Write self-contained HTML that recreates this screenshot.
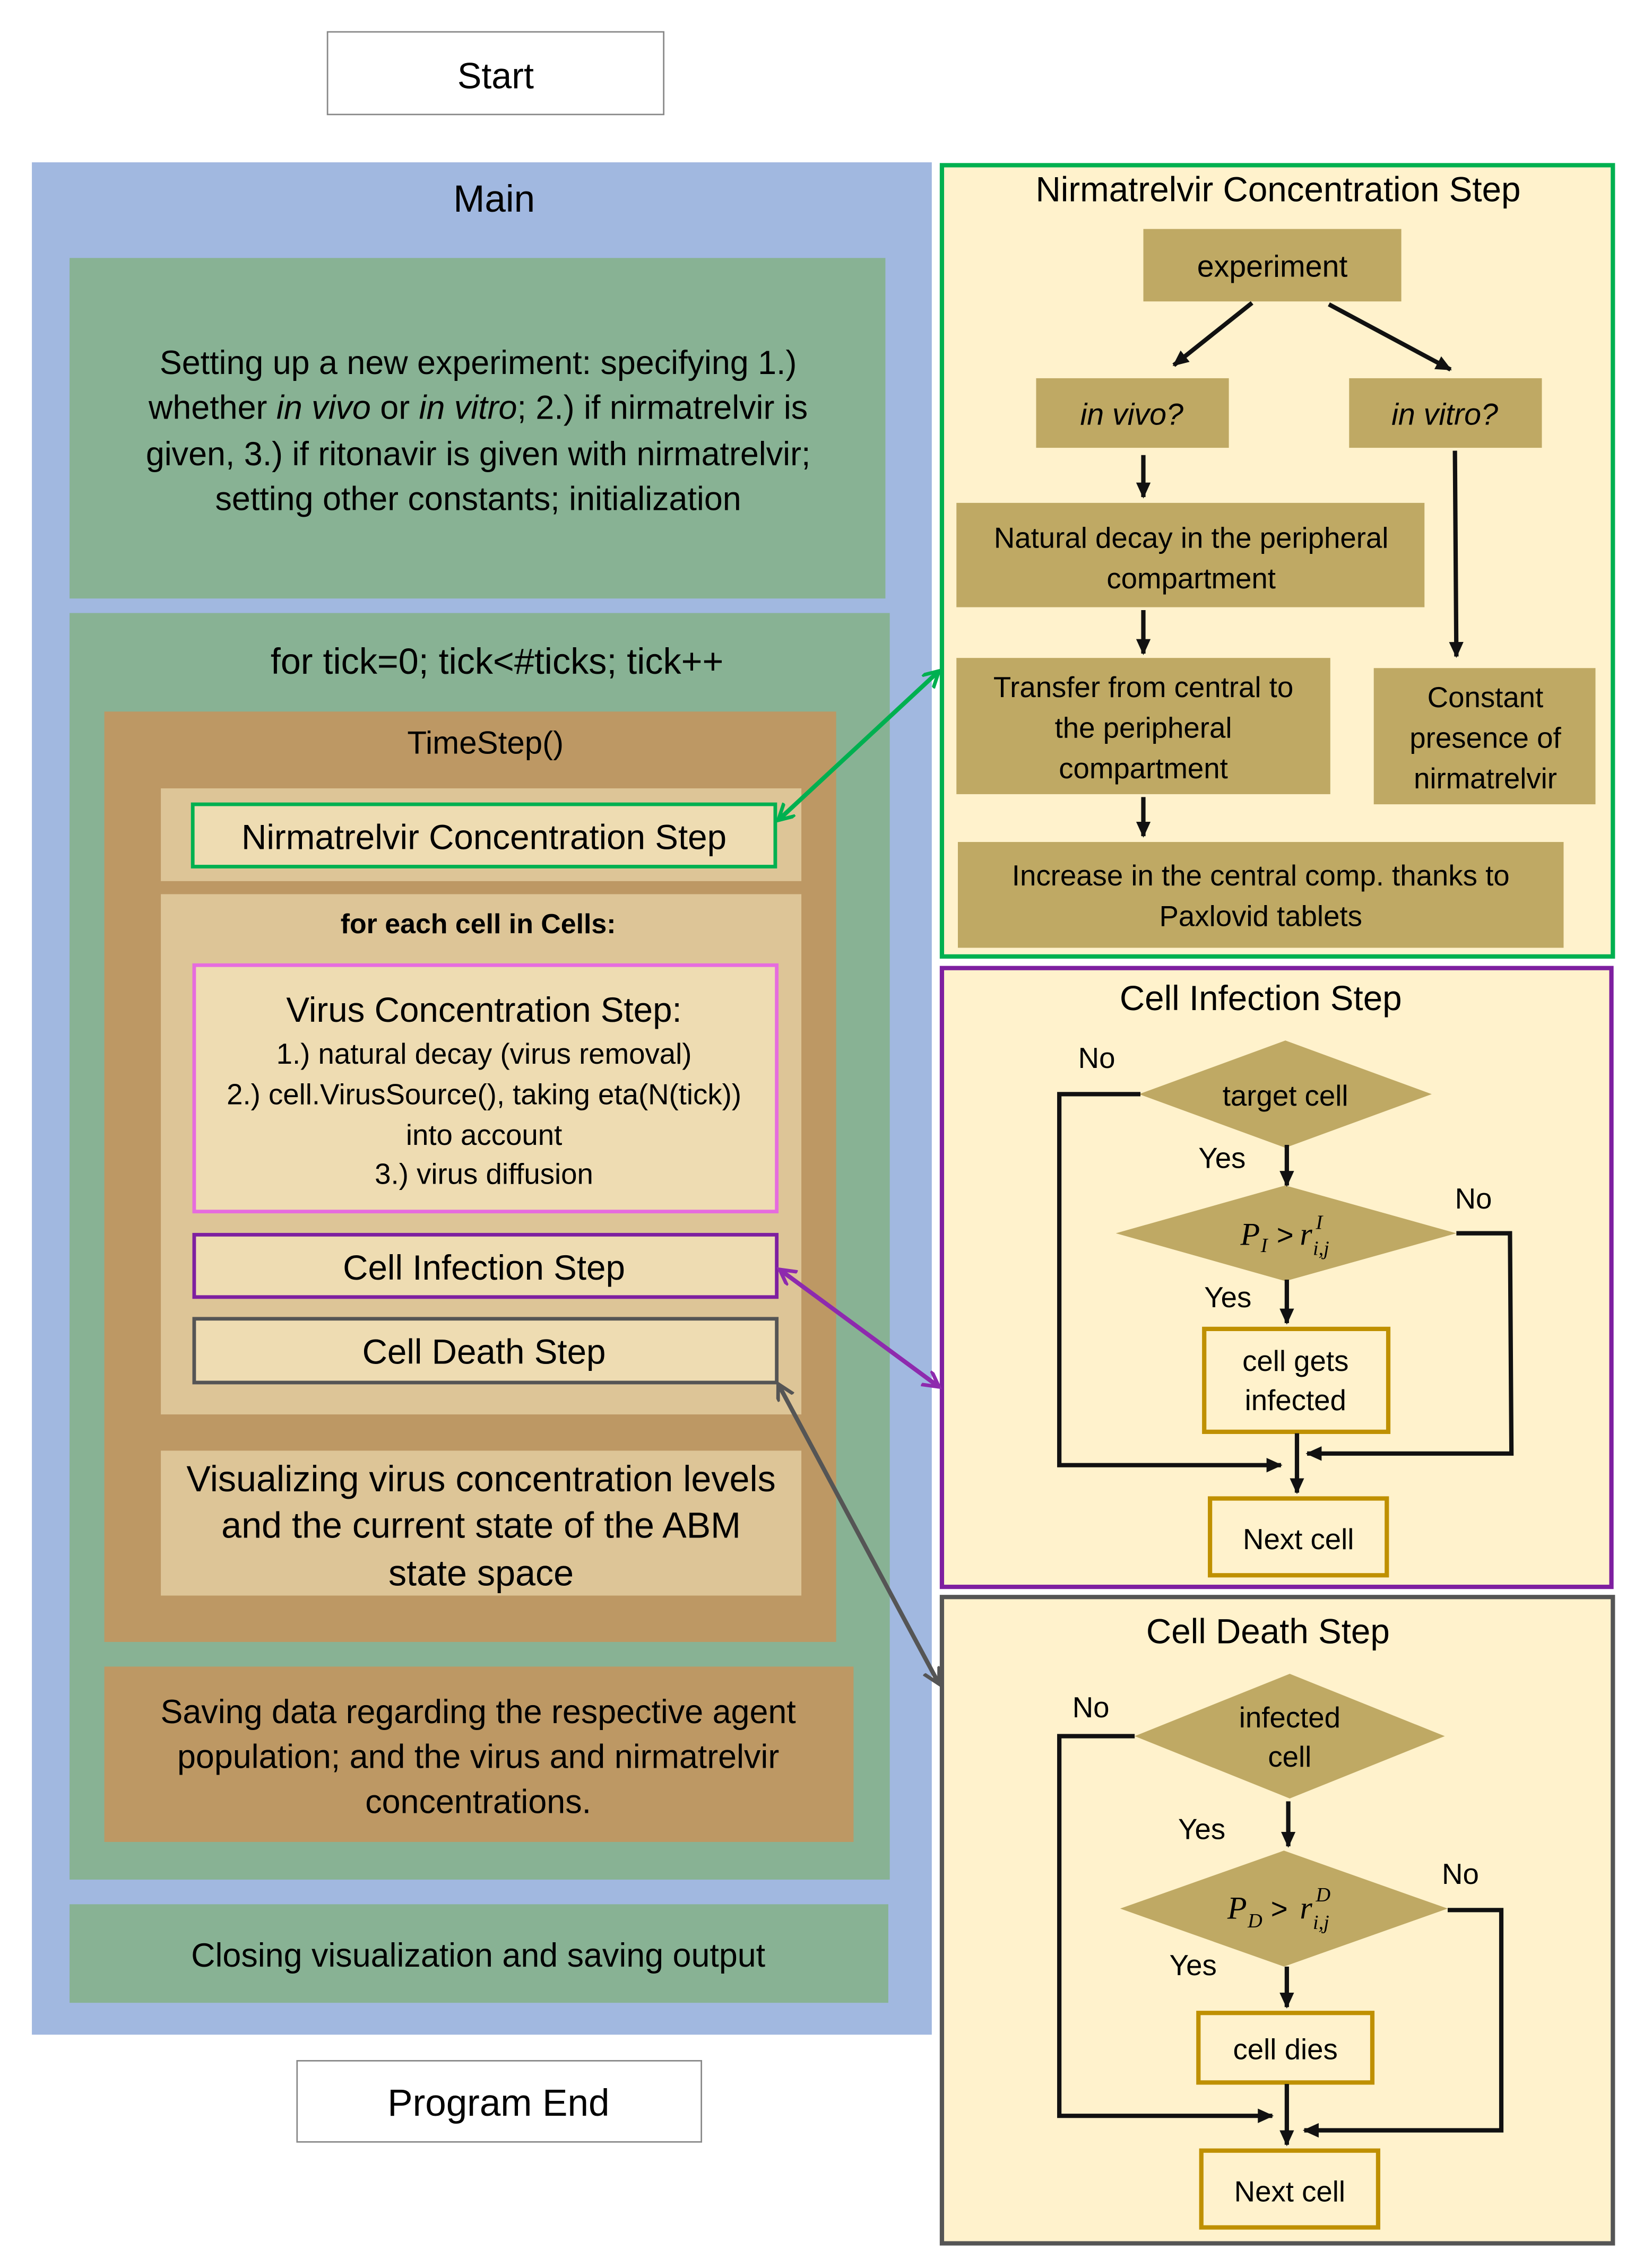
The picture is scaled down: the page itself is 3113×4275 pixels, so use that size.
<!DOCTYPE html>
<html><head><meta charset="utf-8"><style>
html,body{margin:0;padding:0;background:#fff;}
svg{display:block;}
text{font-family:"Liberation Sans",sans-serif;fill:#000;}
.m{font-family:"Liberation Serif",serif;font-style:italic;}
</style></head><body>
<svg width="3113" height="4275" viewBox="0 0 1140 1565" preserveAspectRatio="none" xmlns="http://www.w3.org/2000/svg">
<defs>
<marker id="ak" markerWidth="12" markerHeight="12" refX="10" refY="5" orient="auto" markerUnits="userSpaceOnUse"><path d="M0,0 L11,5 L0,10 z" fill="#111"/></marker>
<marker id="ag" markerWidth="14" markerHeight="14" refX="11" refY="6" orient="auto-start-reverse" markerUnits="userSpaceOnUse"><path d="M0,0 L11,6 L0,12" fill="none" stroke="#00B050" stroke-width="2.5"/></marker>
<marker id="ap" markerWidth="14" markerHeight="14" refX="11" refY="6" orient="auto-start-reverse" markerUnits="userSpaceOnUse"><path d="M0,0 L11,6 L0,12" fill="none" stroke="#8E2AAE" stroke-width="2.5"/></marker>
<marker id="ay" markerWidth="14" markerHeight="14" refX="11" refY="6" orient="auto-start-reverse" markerUnits="userSpaceOnUse"><path d="M0,0 L11,6 L0,12" fill="none" stroke="#555" stroke-width="2.5"/></marker>
</defs>
<rect width="1140" height="1565" fill="#fff"/>
<rect x="226" y="22" width="232" height="57" fill="#fff" stroke="#888" stroke-width="1"/>
<text x="342" y="61" font-size="25" text-anchor="middle">Start</text>
<rect x="22" y="112" width="621" height="1292" fill="#A1B8E0"/>
<text x="341" y="146" font-size="26" text-anchor="middle">Main</text>
<rect x="48" y="178" width="563" height="235" fill="#88B294"/>
<g font-size="23" text-anchor="middle">
<text x="330" y="258">Setting up a new experiment: specifying 1.)</text>
<text x="330" y="289">whether <tspan font-style="italic">in vivo</tspan> or <tspan font-style="italic">in vitro</tspan>; 2.) if nirmatrelvir is</text>
<text x="330" y="321">given, 3.) if ritonavir is given with nirmatrelvir;</text>
<text x="330" y="352">setting other constants; initialization</text>
</g>
<rect x="48" y="423" width="566" height="874" fill="#88B294"/>
<text x="343" y="465" font-size="25" text-anchor="middle">for tick=0; tick&lt;#ticks; tick++</text>
<rect x="72" y="491" width="505" height="642" fill="#BD9864"/>
<text x="335" y="520" font-size="22" text-anchor="middle">TimeStep()</text>
<rect x="111" y="544" width="442" height="64" fill="#DDC597"/>
<rect x="133" y="555" width="402" height="43" fill="#EEDCB2" stroke="#00B050" stroke-width="2.5"/>
<text x="334" y="586" font-size="24" text-anchor="middle">Nirmatrelvir Concentration Step</text>
<rect x="111" y="617" width="442" height="359" fill="#DDC597"/>
<text x="330" y="644" font-size="19" font-weight="bold" text-anchor="middle">for each cell in Cells:</text>
<rect x="134" y="666" width="402" height="170" fill="#EEDCB2" stroke="#E66CDE" stroke-width="2.5"/>
<text x="334" y="705" font-size="24" text-anchor="middle">Virus Concentration Step:</text>
<g font-size="20" text-anchor="middle">
<text x="334" y="734">1.) natural decay (virus removal)</text>
<text x="334" y="762">2.) cell.VirusSource(), taking eta(N(tick))</text>
<text x="334" y="790">into account</text>
<text x="334" y="817">3.) virus diffusion</text>
</g>
<rect x="134" y="852" width="402" height="43" fill="#EEDCB2" stroke="#7E1FA0" stroke-width="2.5"/>
<text x="334" y="883" font-size="24" text-anchor="middle">Cell Infection Step</text>
<rect x="134" y="910" width="402" height="44" fill="#EEDCB2" stroke="#555" stroke-width="2.5"/>
<text x="334" y="941" font-size="24" text-anchor="middle">Cell Death Step</text>
<rect x="111" y="1001" width="442" height="100" fill="#DDC597"/>
<g font-size="25" text-anchor="middle">
<text x="332" y="1029">Visualizing virus concentration levels</text>
<text x="332" y="1061">and the current state of the ABM</text>
<text x="332" y="1094">state space</text>
</g>
<rect x="72" y="1150" width="517" height="121" fill="#BD9864"/>
<g font-size="23" text-anchor="middle">
<text x="330" y="1189">Saving data regarding the respective agent</text>
<text x="330" y="1220">population; and the virus and nirmatrelvir</text>
<text x="330" y="1251">concentrations.</text>
</g>
<rect x="48" y="1314" width="565" height="68" fill="#88B294"/>
<text x="330" y="1357" font-size="23" text-anchor="middle">Closing visualization and saving output</text>
<rect x="205" y="1422" width="279" height="56" fill="#fff" stroke="#888" stroke-width="1"/>
<text x="344" y="1460" font-size="26" text-anchor="middle">Program End</text>

<!-- Panel 1 -->
<rect x="650" y="114" width="463" height="546" fill="#FFF2CC" stroke="#00B050" stroke-width="3"/>
<text x="882" y="139" font-size="24" text-anchor="middle">Nirmatrelvir Concentration Step</text>
<rect x="789" y="158" width="178" height="50" fill="#BFA964"/>
<text x="878" y="191" font-size="21" text-anchor="middle">experiment</text>
<rect x="715" y="261" width="133" height="48" fill="#BFA964"/>
<text x="781" y="293" font-size="21" font-style="italic" text-anchor="middle">in vivo?</text>
<rect x="931" y="261" width="133" height="48" fill="#BFA964"/>
<text x="997" y="293" font-size="21" font-style="italic" text-anchor="middle">in vitro?</text>
<rect x="660" y="347" width="323" height="72" fill="#BFA964"/>
<text x="822" y="378" font-size="20" text-anchor="middle">Natural decay in the peripheral</text>
<text x="822" y="406" font-size="20" text-anchor="middle">compartment</text>
<rect x="660" y="454" width="258" height="94" fill="#BFA964"/>
<text x="789" y="481" font-size="20" text-anchor="middle">Transfer from central to</text>
<text x="789" y="509" font-size="20" text-anchor="middle">the peripheral</text>
<text x="789" y="537" font-size="20" text-anchor="middle">compartment</text>
<rect x="948" y="461" width="153" height="94" fill="#BFA964"/>
<text x="1025" y="488" font-size="20" text-anchor="middle">Constant</text>
<text x="1025" y="516" font-size="20" text-anchor="middle">presence of</text>
<text x="1025" y="544" font-size="20" text-anchor="middle">nirmatrelvir</text>
<rect x="661" y="581" width="418" height="73" fill="#BFA964"/>
<text x="870" y="611" font-size="20" text-anchor="middle">Increase in the central comp. thanks to</text>
<text x="870" y="639" font-size="20" text-anchor="middle">Paxlovid tablets</text>
<g stroke="#111" stroke-width="3" fill="none" marker-end="url(#ak)">
<line x1="864" y1="209" x2="810" y2="252"/>
<line x1="917" y1="210" x2="1001" y2="255"/>
<line x1="789" y1="314" x2="789" y2="343"/>
<line x1="789" y1="421" x2="789" y2="451"/>
<line x1="789" y1="550" x2="789" y2="577"/>
<line x1="1004" y1="311" x2="1005" y2="453"/>
</g>

<!-- Panel 2 -->
<rect x="650" y="668" width="462" height="427" fill="#FFF2CC" stroke="#7E1FA0" stroke-width="3"/>
<text x="870" y="697" font-size="24" text-anchor="middle">Cell Infection Step</text>
<polygon points="786,755 887,718 988,755 887,792" fill="#BFA964"/>
<text x="887" y="763" font-size="20" text-anchor="middle">target cell</text>
<polygon points="770,851 887,818 1005,851 887,884" fill="#BFA964"/>
<text class="m" x="856" y="859" font-size="22">P</text>
<text class="m" x="870" y="864" font-size="14">I</text>
<text x="881" y="859" font-size="20">&gt;</text>
<text class="m" x="897" y="859" font-size="22">r</text>
<text class="m" x="908" y="848" font-size="14">I</text>
<text class="m" x="906" y="866" font-size="14">i,j</text>
<rect x="831" y="917" width="127" height="71" fill="#FFF2CC" stroke="#BF9000" stroke-width="3"/>
<text x="894" y="946" font-size="20" text-anchor="middle">cell gets</text>
<text x="894" y="973" font-size="20" text-anchor="middle">infected</text>
<rect x="835" y="1034" width="122" height="53" fill="#FFF2CC" stroke="#BF9000" stroke-width="3"/>
<text x="896" y="1069" font-size="20" text-anchor="middle">Next cell</text>
<g font-size="20"><text x="744" y="737">No</text><text x="827" y="806">Yes</text><text x="1004" y="834">No</text><text x="831" y="902">Yes</text></g>
<g stroke="#111" stroke-width="3" fill="none">
<polyline points="787,755 731,755 731,1011 884,1011" marker-end="url(#ak)"/>
<line x1="888" y1="790" x2="888" y2="818" marker-end="url(#ak)"/>
<line x1="888" y1="883" x2="888" y2="913" marker-end="url(#ak)"/>
<polyline points="1005,851 1042,851 1043,1003 902,1003" marker-end="url(#ak)"/>
<line x1="895" y1="989" x2="895" y2="1030" marker-end="url(#ak)"/>
</g>

<!-- Panel 3 -->
<rect x="650" y="1102" width="463" height="446" fill="#FFF2CC" stroke="#555" stroke-width="3"/>
<text x="875" y="1134" font-size="24" text-anchor="middle">Cell Death Step</text>
<polygon points="783,1198 890,1155 997,1198 890,1241" fill="#BFA964"/>
<text x="890" y="1192" font-size="20" text-anchor="middle">infected</text>
<text x="890" y="1219" font-size="20" text-anchor="middle">cell</text>
<polygon points="773,1317 886,1277 999,1317 886,1357" fill="#BFA964"/>
<text class="m" x="847" y="1324" font-size="22">P</text>
<text class="m" x="861" y="1330" font-size="14">D</text>
<text x="877" y="1324" font-size="20">&gt;</text>
<text class="m" x="897" y="1324" font-size="22">r</text>
<text class="m" x="908" y="1312" font-size="14">D</text>
<text class="m" x="906" y="1331" font-size="14">i,j</text>
<rect x="827" y="1389" width="120" height="48" fill="#FFF2CC" stroke="#BF9000" stroke-width="3"/>
<text x="887" y="1421" font-size="20" text-anchor="middle">cell dies</text>
<rect x="829" y="1484" width="122" height="53" fill="#FFF2CC" stroke="#BF9000" stroke-width="3"/>
<text x="890" y="1519" font-size="20" text-anchor="middle">Next cell</text>
<g font-size="20"><text x="740" y="1185">No</text><text x="813" y="1269">Yes</text><text x="995" y="1300">No</text><text x="807" y="1363">Yes</text></g>
<g stroke="#111" stroke-width="3" fill="none">
<polyline points="783,1198 731,1198 731,1460 878,1460" marker-end="url(#ak)"/>
<line x1="889" y1="1243" x2="889" y2="1274" marker-end="url(#ak)"/>
<polyline points="999,1318 1036,1318 1036,1470 900,1470" marker-end="url(#ak)"/>
<line x1="888" y1="1357" x2="888" y2="1385" marker-end="url(#ak)"/>
<line x1="888" y1="1438" x2="888" y2="1480" marker-end="url(#ak)"/>
</g>

<!-- connectors -->
<line x1="537" y1="566" x2="648" y2="463" stroke="#00B050" stroke-width="3" marker-start="url(#ag)" marker-end="url(#ag)"/>
<line x1="538" y1="876" x2="648" y2="957" stroke="#8E2AAE" stroke-width="3" marker-start="url(#ap)" marker-end="url(#ap)"/>
<line x1="537" y1="955" x2="648" y2="1162" stroke="#555" stroke-width="3" marker-start="url(#ay)" marker-end="url(#ay)"/>
</svg>
</body></html>
